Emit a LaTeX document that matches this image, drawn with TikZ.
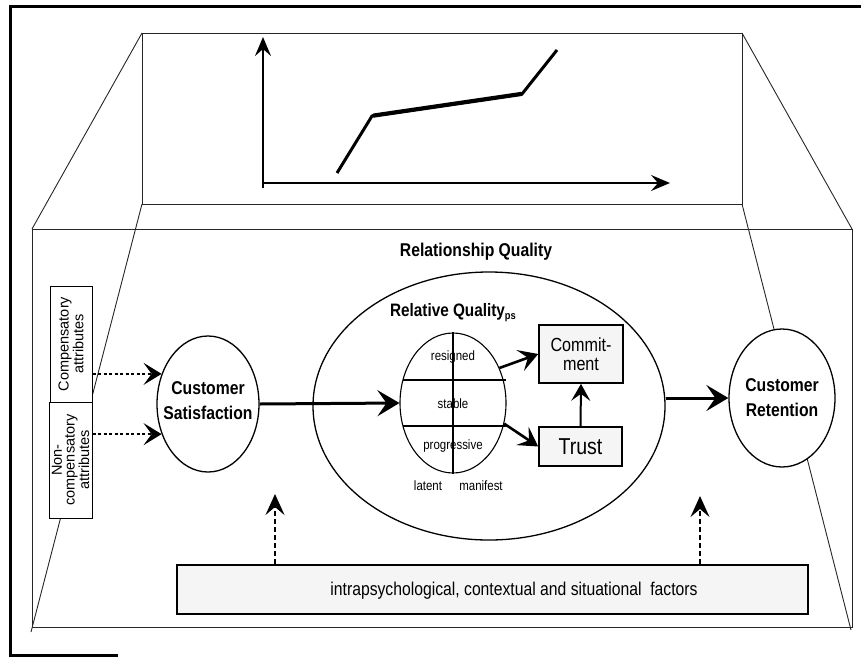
\documentclass[tikz,border=0pt]{standalone}
\usepackage{fontspec}
\setmainfont{Liberation Sans}
\newfontfamily\condsans[FakeStretch=0.85]{Liberation Sans}
\usetikzlibrary{shapes.geometric,arrows.meta,calc}
\begin{document}
\begin{tikzpicture}[x=1pt,y=-1pt,
  panel/.style={line width=0.9pt, draw=black!85},
  ell/.style={ellipse, draw, line width=1.3pt, fill=white, inner sep=0pt},
  bigtitle/.style={font=\condsans\bfseries\fontsize{18.5}{25}\selectfont, align=center, inner sep=0pt},
  midtitle/.style={font=\condsans\bfseries\fontsize{18}{20}\selectfont, inner sep=0pt},
  qtext/.style={font=\condsans\fontsize{19}{19}\selectfont, align=center, inner sep=0pt},
  small/.style={font=\condsans\fontsize{13.5}{14}\selectfont, inner sep=0pt},
  attrbox/.style={draw, line width=1pt, fill=white, inner sep=0pt, minimum width=42pt, minimum height=116pt},
  attrtext/.style={font=\fontsize{14.5}{12.8}\selectfont, align=center, rotate=90, inner sep=0pt},
  qbox/.style={draw, line width=1.6pt, fill=black!4, inner sep=0pt},
  mainarr/.style={line width=3pt, -{Stealth[length=22pt,width=26pt,inset=9pt]}},
  midarr/.style={line width=2.6pt, -{Stealth[length=19pt,width=22pt,inset=8pt]}},
  uparr/.style={line width=2pt, -{Stealth[length=17pt,width=19pt,inset=7pt]}},
  dotarr/.style={line width=2pt, dash pattern=on 3pt off 2.5pt, -{Stealth[length=18pt,width=22pt,inset=8pt]}},
  dasharr/.style={line width=1.8pt, dash pattern=on 5pt off 3pt, -{Stealth[length=21pt,width=19pt,inset=8pt]}},
  axisarr/.style={line width=1.8pt, -{Stealth[length=19pt,width=16pt,inset=7pt]}}
]
\useasboundingbox (0,0) rectangle (861,656);

% outer frame
\draw[line width=3pt] (861,6) -- (10,6) -- (10,655) -- (118,655);

% perspective box: back panel, front panel and the edges joining them
\draw[panel] (142,33) rectangle (742,204);
\draw[panel] (142,33) -- (32,229);
\draw[panel] (742,33) -- (852,229);
\draw[panel] (32,229) rectangle (852,627);
\draw[panel] (142,204) -- (31,632);
\draw[panel] (742,204) -- (851,630);

% graph on the back panel
\draw[axisarr] (263,188) -- (263,37);
\draw[axisarr] (262,183) -- (670,183);
\draw[line width=3pt, line join=round] (337,173) -- (372,116) -- (522,94) -- (557,50);
\draw[line width=4.2pt, line cap=round] (374,115.5) -- (521,94);

% relationship quality
\node[bigtitle] (rqtitle) at (476,252) {Relationship Quality};
\node[ell, minimum width=352pt, minimum height=268pt] (rel) at (489,406) {};
\node[midtitle] (reltitle) at (453,313) {Relative Quality\raisebox{-3pt}{\fontsize{11}{11}\selectfont ps}};

% relative quality ellipse with its four segments
\node[ell, minimum width=106pt, minimum height=140pt, line width=1.1pt] (rq) at (453,403) {};
\draw[line width=1.1pt] (rq.north) -- (rq.south);
\draw[line width=1.1pt] ($(rq.center)+(-50,-23)$) -- ($(rq.center)+(53,-23)$);
\draw[line width=1.1pt] ($(rq.center)+(-50,23)$) -- ($(rq.center)+(53,23)$);
\node[small] (resig) at (453,357) {resigned};
\node[small] (stab) at (453,404) {stable};
\node[small] (prog) at (453,446) {progressive};
\node[small] (lat) at (428,486) {latent};
\node[small] (man) at (481,486) {manifest};

% commitment and trust
\node[qbox, minimum width=84pt, minimum height=58pt] (commit) at (581,354) {};
\node[qtext] (committext) at (commit) {Commit-\\ment};
\node[qbox, minimum width=83pt, minimum height=39pt] (trust) at (580.5,446.5) {};
\node[qtext, font=\condsans\fontsize{23}{23}\selectfont] (trusttext) at (trust) {Trust};

% satisfaction and retention
\node[ell, minimum width=102pt, minimum height=136pt] (sat) at (208,404) {};
\node[bigtitle] (sattext) at (208,401) {Customer\\Satisfaction};
\node[ell, minimum width=106pt, minimum height=138pt] (ret) at (782,398) {};
\node[bigtitle] (rettext) at (782,398) {Customer\\Retention};

% attribute boxes
\node[attrbox] (comp) at (71,344) {};
\node[attrtext] (comptext) at (comp) {Compensatory\\attributes};
\node[attrbox, minimum width=43pt] (ncomp) at (70.5,460) {};
\node[attrtext] (ncomptext) at (ncomp) {Non-\\compensatory\\attributes};

% factors box
\node[qbox, minimum width=631pt, minimum height=49pt, line width=2pt] (fac) at (492.5,589.5) {};
\node[qtext, font=\condsans\fontsize{18.5}{19}\selectfont] (factext) at (514,591) {intrapsychological, contextual and situational\ \ factors};

% connectors
\draw[dotarr] (comp.east |- sat.147) -- (sat.147);
\draw[dotarr] (ncomp.east |- sat.213) -- (sat.213);
\draw[mainarr] (sat.east) -- (rq.west);
\draw[mainarr] (rel.east |- ret.west) -- (ret.west);
\draw[midarr] (rq.37) -- (commit.west);
\draw[midarr] (rq.-22) -- (trust.west);
\draw[uparr] (trust.north) -- (commit.south);
\coordinate (f1) at (275,494);
\coordinate (f2) at (700,496);
\draw[dasharr] (fac.north -| f1) -- (f1);
\draw[dasharr] (fac.north -| f2) -- (f2);
\end{tikzpicture}
\end{document}
